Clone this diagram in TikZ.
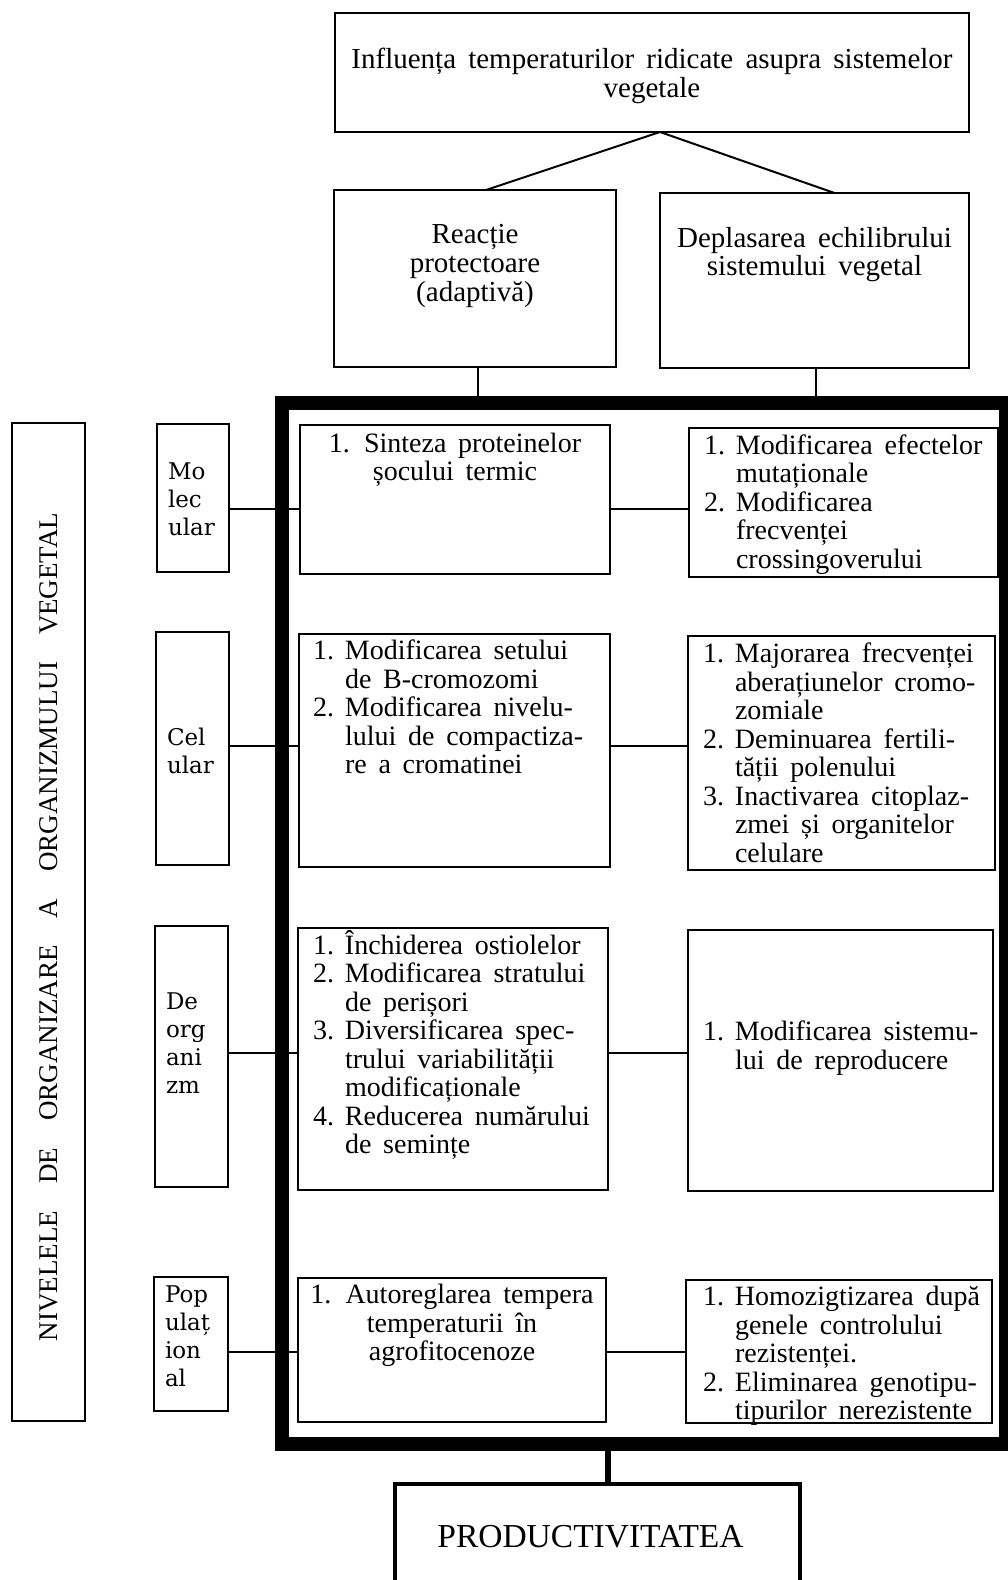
\documentclass[tikz,border=0pt]{standalone}
\usepackage{fontspec}
\setmainfont{Liberation Serif}
\newfontfamily\lvfont{DejaVu Serif}
\usetikzlibrary{calc}
\newcommand\nm[1]{\makebox[32pt][l]{#1}}
\newcommand\wsp{\spaceskip=.42em plus .1em\relax}
\newcommand\bxl[5]{\parbox[c][#2pt][t]{#1pt}{\wsp\vspace*{\dimexpr#3pt-11pt\relax}\hspace*{#4pt}\begin{tabular}[t]{@{}l@{}}#5\end{tabular}}}
\newcommand\bxc[4]{\parbox[c][#2pt][t]{#1pt}{\wsp\centering\vspace*{\dimexpr#3pt-11pt\relax}\begin{tabular}[t]{@{}c@{}}#4\end{tabular}\par}}
\tikzset{
  bx/.style={draw, line width=2.5pt, inner sep=0pt, outer sep=0pt, anchor=north west,
    font=\fontsize{28}{28.5}\selectfont},
  hbx/.style={bx, font=\fontsize{29}{28.5}\selectfont},
  lvbox/.style={draw, line width=2pt, inner sep=0pt, outer sep=0pt, anchor=north west,
    font=\lvfont\fontsize{23}{28}\selectfont},
  ln/.style={line width=2pt},
}
\begin{document}
\begin{tikzpicture}[x=1pt,y=-1pt]
\useasboundingbox (0,0) rectangle (1008,1580);
\clip (0,0) rectangle (1008,1580);
\fill[white] (0,0) rectangle (1008,1580);

% top level
\node[hbx] (top) at (335,13) {\bxc{634}{119}{46.5}{Influența temperaturilor ridicate asupra sistemelor\\vegetale}};
\node[hbx] (react) at (334,190) {\bxc{282}{177}{45}{Reacție\\protectoare\\(adaptivă)}};
\node[hbx] (depl) at (660,193) {\bxc{309}{175}{45}{Deplasarea echilibrului\\sistemului vegetal}};

% big frame
\node[draw, line width=14pt, inner sep=0pt, outer sep=0pt, anchor=north west,
      minimum width=724, minimum height=1041.5] (frame) at (282,402.5) {};

% left label
\node[draw, line width=2pt, rotate=90, inner sep=0pt, outer sep=0pt,
      minimum width=998, minimum height=73, font=\fontsize{27}{30}\selectfont] (tall) at (48.5,922)
  {NIVELELE\hspace{27pt}DE\hspace{27pt}ORGANIZARE\hspace{27pt}A\hspace{27pt}ORGANIZMULUI\hspace{27pt}VEGETAL\hspace*{10pt}};

% level boxes
\node[lvbox] (mol) at (157,424) {\bxl{72}{148}{47}{11}{Mo\\lec\\ular}};
\node[lvbox] (cel) at (156,632) {\bxl{73}{233}{105}{11}{Cel\\ular}};
\node[lvbox] (org) at (155,926) {\bxl{73}{261}{75}{11}{De\\org\\ani\\zm}};
\node[lvbox] (pop) at (154,1277) {\bxl{74}{134}{17}{11}{Pop\\ulaț\\ion\\al}};

% inner left boxes
\node[bx] (L1) at (300,425) {\bxc{310}{149}{18.5}{1. Sinteza proteinelor\\șocului termic}};
\node[bx] (L2) at (299,634) {\bxl{311}{233}{17}{14}{%
  \nm{1.}Modificarea setului\\ \nm{}de B-cromozomi\\ \nm{2.}Modificarea nivelu-\\
  \nm{}lului de compactiza-\\ \nm{}re a cromatinei}};
\node[bx] (L3) at (298,928) {\bxl{310}{262}{13}{15}{%
  \nm{1.}Închiderea ostiolelor\\ \nm{2.}Modificarea stratului\\ \nm{}de perișori\\
  \nm{3.}Diversificarea spec-\\ \nm{}trului variabilității\\ \nm{}modificaționale\\
  \nm{4.}Reducerea numărului\\ \nm{}de semințe}};
\node[bx] (L4) at (298,1278) {\bxc{308}{144}{17}{1. Autoreglarea tempera\\temperaturii în\\agrofitocenoze}};

% inner right boxes
\node[bx] (R1) at (689,428) {\bxl{309}{149}{17.5}{15}{%
  \nm{1.}Modificarea efectelor\\ \nm{}mutaționale\\ \nm{2.}Modificarea\\
  \nm{}frecvenței\\ \nm{}crossingoverului}};
\node[bx] (R2) at (688,636) {\bxl{307}{234}{18}{15}{%
  \nm{1.}Majorarea frecvenței\\ \nm{}aberațiunelor cromo-\\ \nm{}zomiale\\
  \nm{2.}Deminuarea fertili-\\ \nm{}tății polenului\\ \nm{3.}Inactivarea citoplaz-\\
  \nm{}zmei și organitelor\\ \nm{}celulare}};
\node[bx] (R3) at (688,930) {\bxl{305}{261}{102}{15}{%
  \nm{1.}Modificarea sistemu-\\ \nm{}lui de reproducere}};
\node[bx] (R4) at (686,1280) {\bxl{306}{143}{17}{17}{%
  \nm{1.}Homozigtizarea după\\ \nm{}genele controlului\\ \nm{}rezistenței.\\
  \nm{2.}Eliminarea genotipu-\\ \nm{}tipurilor nerezistente}};

% bottom box
\node[draw, line width=4.5pt, inner sep=0pt, outer sep=0pt, anchor=north west,
      font=\fontsize{33.5}{36}\selectfont] (prod) at (395,1484)
  {\bxc{405}{200}{49}{PRODUCTIVITATEA\hspace*{14pt}}};

% connectors
\coordinate (apex) at (660,132);
\draw[ln] (apex) -- ($(react.north)+(11,0)$);
\draw[ln] (apex) -- ($(depl.north)+(20,0)$);
\coordinate (rs) at ($(react.south)+(3,0)$);
\coordinate (ds) at ($(depl.south)+(1.5,0)$);
\draw[ln] (rs) -- (rs |- frame.north);
\draw[ln] (ds) -- (ds |- frame.north);

\coordinate (r1) at (0,509);
\coordinate (r2) at (0,746);
\coordinate (r3) at (0,1053);
\coordinate (r4) at (0,1352);
\draw[ln] (mol.east |- r1) -- (L1.west |- r1);
\draw[ln] (cel.east |- r2) -- (L2.west |- r2);
\draw[ln] (org.east |- r3) -- (L3.west |- r3);
\draw[ln] (pop.east |- r4) -- (L4.west |- r4);
\draw[ln] (L1.east |- r1) -- (R1.west |- r1);
\draw[ln] (L2.east |- r2) -- (R2.west |- r2);
\draw[ln] (L3.east |- r3) -- (R3.west |- r3);
\draw[ln] (L4.east |- r4) -- (R4.west |- r4);

% redraw frame on top of connectors
\draw[line width=14pt] (frame.north west) rectangle (frame.south east);

\coordinate (pc) at ($(prod.north)+(10.5,0)$);
\draw[line width=6pt] (pc |- frame.south) -- (pc);
\end{tikzpicture}
\end{document}
